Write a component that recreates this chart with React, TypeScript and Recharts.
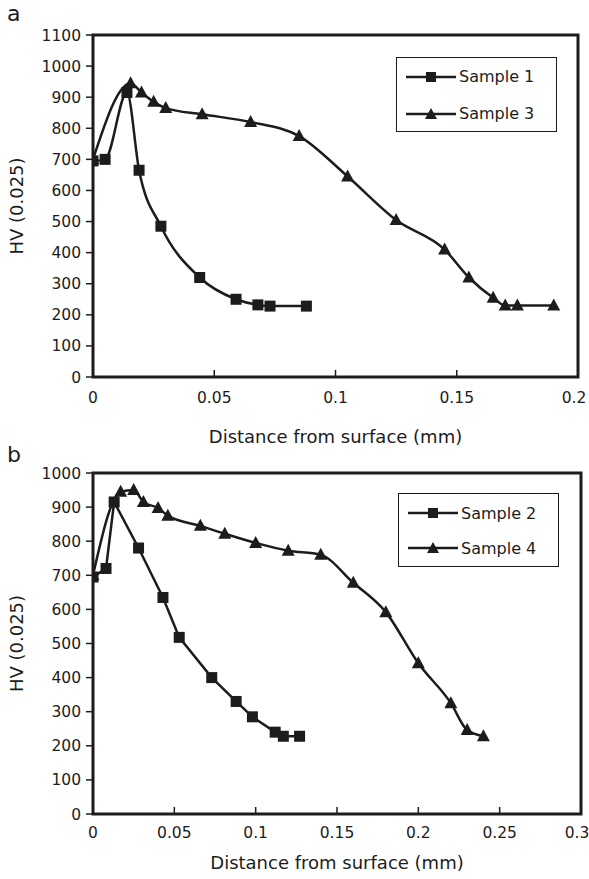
import { LineChart, Line, XAxis, YAxis, Legend, ReferenceArea } from 'recharts'

const FONT = '"DejaVu Sans", sans-serif'
const INK = '#1c1c1c'

// panel a
const S1_DEPTH = [0, 0.005, 0.014, 0.019, 0.028, 0.044, 0.059, 0.068, 0.073, 0.088]
const S1_HV = [695, 700, 915, 665, 485, 320, 250, 232, 228, 228]
const S3_DEPTH = [0, 0.0155, 0.02, 0.025, 0.03, 0.045, 0.065, 0.085, 0.105, 0.125, 0.145, 0.155, 0.165, 0.17, 0.175, 0.19]
const S3_HV = [700, 945, 915, 885, 865, 845, 820, 775, 645, 505, 410, 320, 255, 230, 230, 230]

// panel b
const S2_DEPTH = [0, 0.008, 0.013, 0.028, 0.043, 0.053, 0.073, 0.088, 0.098, 0.112, 0.117, 0.127]
const S2_HV = [695, 720, 915, 780, 635, 518, 400, 330, 285, 240, 228, 228]
const S4_DEPTH = [0, 0.017, 0.025, 0.031, 0.04, 0.046, 0.066, 0.081, 0.1, 0.12, 0.14, 0.16, 0.18, 0.2, 0.22, 0.23, 0.24]
const S4_HV = [700, 945, 950, 915, 897, 875, 845, 822, 795, 772, 760, 678, 592, 442, 325, 246, 228]

const X_TICKS_A = [0, 0.05, 0.1, 0.15, 0.2]
const Y_TICKS_A = [0, 100, 200, 300, 400, 500, 600, 700, 800, 900, 1000, 1100]
const X_TICKS_B = [0, 0.05, 0.1, 0.15, 0.2, 0.25, 0.3]
const Y_TICKS_B = [0, 100, 200, 300, 400, 500, 600, 700, 800, 900, 1000]

const X_TITLE = 'Distance from surface (mm)'
const Y_TITLE = 'HV (0.025)'

const MARKERS: Record<string, 'square' | 'triangle'> = {
  'Sample 1': 'square',
  'Sample 2': 'square',
  'Sample 3': 'triangle',
  'Sample 4': 'triangle',
}

function toRows(depth: number[], hv: number[]) {
  return depth.map((x, i) => ({ x, hv: hv[i] }))
}

function SquareDot({ cx, cy }: any) {
  if (cx == null || cy == null) return null
  return <rect x={cx - 5.5} y={cy - 5.5} width={11} height={11} fill={INK} />
}

function TriangleDot({ cx, cy }: any) {
  if (cx == null || cy == null) return null
  return <polygon points={`${cx},${cy - 7} ${cx - 6.5},${cy + 5} ${cx + 6.5},${cy + 5}`} fill={INK} />
}

// last tick label sits at the page edge, nudge it in a little
function XTick({ x, y, payload, lastValue }: any) {
  const isLast = payload.value === lastValue
  return (
    <text
      x={x}
      y={y}
      dy="0.71em"
      dx={isLast ? -4 : 0}
      textAnchor="middle"
      fill={INK}
      fontSize={15.5}
      fontFamily={FONT}
    >
      {String(payload.value)}
    </text>
  )
}

function MarkerIcon({ shape }: { shape: 'square' | 'triangle' }) {
  return (
    <svg width={50} height={14} style={{ display: 'block' }}>
      <line x1={0} y1={7} x2={50} y2={7} stroke={INK} strokeWidth={2.5} />
      {shape === 'square' ? (
        <rect x={20} y={2} width={10} height={10} fill={INK} />
      ) : (
        <polygon points="25,1 19,12 31,12" fill={INK} />
      )}
    </svg>
  )
}

function LegendBox({ payload, rowHeight, padTop }: any) {
  return (
    <div style={{ paddingTop: padTop }}>
      {(payload || []).map((entry: any) => (
        <div
          key={entry.value}
          style={{ display: 'flex', alignItems: 'center', height: rowHeight, paddingLeft: 9 }}
        >
          <MarkerIcon shape={MARKERS[entry.value]} />
          <span style={{ marginLeft: 3, fontSize: 16, fontFamily: FONT, color: INK }}>{entry.value}</span>
        </div>
      ))}
    </div>
  )
}

interface SeriesDef {
  name: string
  depth: number[]
  hv: number[]
  curve: 'monotone' | 'linear'
}

interface PanelProps {
  height: number
  margin: { top: number; right: number; bottom: number; left: number }
  series: SeriesDef[]
  xTicks: number[]
  yTicks: number[]
  xAxisHeight: number
  xTickMargin: number
  legendBox: { left: number; top: number; width: number; height: number }
  rowHeight: number
  padTop: number
}

function Panel(p: PanelProps) {
  const xMax = p.xTicks[p.xTicks.length - 1]
  const yMax = p.yTicks[p.yTicks.length - 1]
  const tickStyle = { fill: INK, fontSize: 15.5, fontFamily: FONT }
  return (
    <LineChart width={589} height={p.height} margin={p.margin} style={{ fontFamily: FONT }}>
      <XAxis
        type="number"
        dataKey="x"
        domain={[0, xMax]}
        ticks={p.xTicks}
        interval={0}
        allowDataOverflow
        axisLine={false}
        tickSize={-7}
        tickMargin={p.xTickMargin}
        tickLine={{ stroke: INK, strokeWidth: 1.5 }}
        tick={<XTick lastValue={xMax} />}
        height={p.xAxisHeight}
        label={{ value: X_TITLE, position: 'insideBottom', offset: 0, fill: INK, fontSize: 18, fontFamily: FONT }}
      />
      <YAxis
        type="number"
        domain={[0, yMax]}
        ticks={p.yTicks}
        interval={0}
        allowDataOverflow
        width={93}
        axisLine={false}
        tickSize={7}
        tickMargin={5}
        tickLine={{ stroke: INK, strokeWidth: 1.5 }}
        tick={tickStyle}
        label={{
          value: Y_TITLE,
          angle: -90,
          position: 'insideLeft',
          offset: 17,
          fill: INK,
          fontSize: 18,
          fontFamily: FONT,
          style: { textAnchor: 'middle' },
        }}
      />
      <ReferenceArea
        x1={0}
        x2={xMax}
        y1={0}
        y2={yMax}
        fill="none"
        stroke={INK}
        strokeWidth={3}
        ifOverflow="visible"
      />
      {p.series.map(s => (
        <Line
          key={s.name}
          name={s.name}
          data={toRows(s.depth, s.hv)}
          dataKey="hv"
          type={s.curve}
          stroke={INK}
          strokeWidth={2.5}
          dot={MARKERS[s.name] === 'square' ? <SquareDot /> : <TriangleDot />}
          activeDot={false}
          isAnimationActive={false}
        />
      ))}
      <Legend
        layout="vertical"
        align="center"
        verticalAlign="middle"
        wrapperStyle={{
          position: 'absolute',
          left: p.legendBox.left,
          top: p.legendBox.top,
          width: p.legendBox.width,
          height: p.legendBox.height,
          border: `1.5px solid ${INK}`,
          boxSizing: 'border-box',
          background: '#fff',
        }}
        content={(props: any) => <LegendBox {...props} rowHeight={p.rowHeight} padTop={p.padTop} />}
      />
    </LineChart>
  )
}

const letterStyle = {
  position: 'absolute' as const,
  left: 7,
  fontSize: 22,
  lineHeight: 1,
  fontFamily: FONT,
  color: INK,
}

export default function App() {
  return (
    <div style={{ position: 'absolute', left: 0, top: 0, width: 589, height: 879, background: '#fff' }}>
      <Panel
        height={451}
        margin={{ top: 35, right: 11, bottom: 8, left: 0 }}
        series={[
          { name: 'Sample 1', depth: S1_DEPTH, hv: S1_HV, curve: 'monotone' },
          { name: 'Sample 3', depth: S3_DEPTH, hv: S3_HV, curve: 'monotone' },
        ]}
        xTicks={X_TICKS_A}
        yTicks={Y_TICKS_A}
        xAxisHeight={66}
        xTickMargin={22}
        legendBox={{ left: 396, top: 57, width: 161, height: 75 }}
        rowHeight={37}
        padTop={0}
      />
      <Panel
        height={428}
        margin={{ top: 22, right: 8, bottom: 10, left: 0 }}
        series={[
          { name: 'Sample 2', depth: S2_DEPTH, hv: S2_HV, curve: 'linear' },
          { name: 'Sample 4', depth: S4_DEPTH, hv: S4_HV, curve: 'monotone' },
        ]}
        xTicks={X_TICKS_B}
        yTicks={Y_TICKS_B}
        xAxisHeight={55}
        xTickMargin={20}
        legendBox={{ left: 398, top: 42, width: 161, height: 74 }}
        rowHeight={35}
        padTop={1.5}
      />
      <div style={{ ...letterStyle, top: 3 }}>a</div>
      <div style={{ ...letterStyle, top: 444 }}>b</div>
    </div>
  )
}
